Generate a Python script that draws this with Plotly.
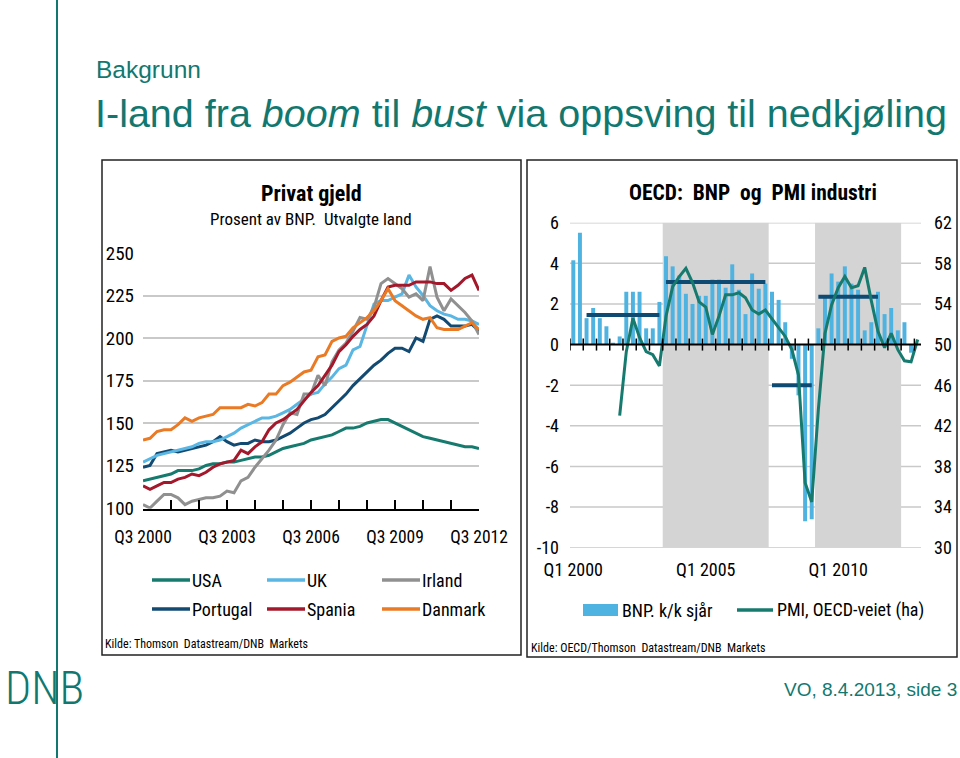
import plotly.graph_objects as go

W, H = 960, 758
def px(x):
    return x / W
def py(y):
    return 1 - y / H

TEAL = "#12786f"
NARROW = "Liberation Sans Narrow, Arial Narrow, Roboto Condensed, DejaVu Sans Condensed, sans-serif"
ARIAL = "Liberation Sans, Arial, sans-serif"

# ---------------- Left chart data: Privat gjeld, % av BNP (quarterly Q3 2000 - Q3 2012)
left_quarters = []
for yr in range(2000, 2013):
    for q in (1, 2, 3, 4):
        if (yr == 2000 and q < 3) or (yr == 2012 and q > 3):
            continue
        left_quarters.append(f"Q{q} {yr}")

left_tick_labels = ["Q3 2000", "Q3 2003", "Q3 2006", "Q3 2009", "Q3 2012"]

usa = [116, 117, 118, 119, 120, 122, 122, 122, 123, 125, 126, 126, 127, 127, 128, 129, 130, 130, 131, 133,
       135, 136, 137, 138, 140, 141, 142, 143, 145,
       147, 147, 148, 150, 151, 152, 152, 150, 148, 146, 144, 142, 141, 140, 139, 138, 137, 136, 136, 135]
uk = [127, 129, 131, 132, 133, 134, 135, 136, 138, 139, 139, 140, 142, 144, 147, 149, 151, 153, 153, 154,
      156, 158, 161, 164, 167, 168, 173, 177, 182, 184, 193, 195, 207, 220, 222, 222, 224, 226, 237, 230,
      225, 219, 216, 214, 213, 211, 211, 210, 208]
irland = [102, 100, 104, 108, 108, 106, 102, 104, 105, 106, 106, 107, 110, 109, 116, 118, 124, 129, 134, 140,
          149, 156, 155, 167, 167, 178, 172, 186, 193, 197, 204, 212, 211, 218, 232, 235, 232, 229, 224, 226,
          222, 242, 224, 216, 223, 219, 215, 210, 202]
portugal = [124, 125, 132, 133, 134, 133, 134, 135, 136, 137, 139, 142, 139, 137, 138, 138, 140, 139, 139, 140,
            142, 144, 147, 150, 152, 153, 155, 159, 163, 167, 172, 176, 180, 184, 187, 191, 194, 194, 192, 200,
            198, 211, 213, 211, 207, 207, 207, 208, 204]
spania = [113, 111, 113, 115, 115, 117, 118, 120, 119, 121, 124, 126, 127, 128, 134, 132, 136, 139, 146, 150,
          152, 155, 158, 163, 168, 172, 178, 184, 192, 196, 201, 205, 208, 213, 222, 230, 231, 231, 231, 233,
          233, 233, 232, 232, 228, 231, 235, 237, 228]
danmark = [140, 141, 145, 146, 146, 149, 153, 151, 153, 154, 155, 159, 159, 159, 159, 161, 160, 162, 167, 167,
           172, 174, 177, 180, 181, 189, 190, 198, 200, 201, 206, 209, 212, 216, 222, 229, 222, 219, 216, 213,
           211, 212, 206, 205, 205, 205, 207, 209, 205]

left_names = ["USA", "UK", "Irland", "Portugal", "Spania", "Danmark"]
left_series = [usa, uk, irland, portugal, spania, danmark]
left_colors = ["#177a6f", "#5ab6e2", "#909090", "#124a72", "#a3182b", "#ea7a24"]
draw_order = [0, 3, 1, 2, 4, 5]

left_yticks = [100, 125, 150, 175, 200, 225, 250]

# ---------------- Right chart data: OECD BNP (k/k sjår) and PMI (Q1 2000 - Q1 2013)
right_quarters = [f"Q{q} {yr}" for yr in range(2000, 2014) for q in (1, 2, 3, 4)][:53]
right_tick_labels = ["Q1 2000", "Q1 2005", "Q1 2010"]

bnp = [4.15, 5.5, 1.3, 1.8, 1.3, 0.9, 0.05, 0.4, 2.6, 2.6,
       2.6, 0.8, 0.8, 2.1, 4.35, 3.85, 3.4, 2.5, 2.0, 2.4,
       2.4, 3.2, 3.2, 2.8, 3.95, 2.7, 1.5, 3.5, 2.75, 3.0,
       2.6, 2.2, 1.1, -0.7, -2.5, -8.7, -8.6, 0.8, 2.3, 3.5,
       3.1, 3.85, 3.0, 2.7, 0.7, 1.1, 2.6, 1.5, 1.8, 0.7,
       1.1, -0.4]
pmi_start = 7
pmi = [43.0, 49.3, 52.6, 50.7, 49.3, 49.0, 47.9, 52.8, 55.7, 56.7,
       57.5, 56.1, 54.2, 53.7, 51.0, 52.8, 54.9, 54.9, 55.1, 54.6,
       53.4, 53.0, 53.4, 52.5, 51.6, 50.8, 49.5, 47.0, 36.4, 34.5,
       43.6, 51.1, 53.9, 55.6, 56.7, 55.6, 55.8, 57.6, 54.3, 51.3,
       49.7, 51.1, 49.5, 48.4, 48.3, 50.5]

# period averages of BNP (start quarter index, end quarter index, value)
avg_start = [2, 14, 30, 37]
avg_end = [13, 29, 36, 46]
avg_value = [1.45, 3.08, -2.0, 2.35]

# shaded upswing periods (quarter index boundaries)
shade_start = [13.5, 36.5]
shade_end = [29.5, 49.5]

right_yticks = [-10, -8, -6, -4, -2, 0, 2, 4, 6]
right_y2ticks = [30, 34, 38, 42, 46, 50, 54, 58, 62]

fig = go.Figure()

# ---- left chart traces
for idx in draw_order:
    fig.add_trace(go.Scatter(
        x=left_quarters, y=left_series[idx], mode="lines", name=left_names[idx],
        line=dict(color=left_colors[idx], width=3), xaxis="x", yaxis="y",
        showlegend=False))

# ---- right chart traces
fig.add_trace(go.Bar(
    x=right_quarters[:len(bnp)], y=bnp, marker=dict(color="#4eb3e1", line=dict(width=0)),
    width=0.6, xaxis="x2", yaxis="y2", showlegend=False, name="BNP. k/k sjår"))

ax, ay = [], []
for s, e, v in zip(avg_start, avg_end, avg_value):
    ax += [right_quarters[s], right_quarters[e], None]
    ay += [v, v, None]
fig.add_trace(go.Scatter(x=ax, y=ay, mode="lines", line=dict(color="#0f4a73", width=4),
                         xaxis="x2", yaxis="y2", showlegend=False, connectgaps=False))

fig.add_trace(go.Scatter(
    x=right_quarters[pmi_start:pmi_start + len(pmi)], y=pmi, mode="lines",
    line=dict(color="#177a6f", width=3), xaxis="x2", yaxis="y3", showlegend=False,
    name="PMI, OECD-veiet (ha)"))

shapes = []
x2_lo, x2_hi = -0.5, len(right_quarters) - 0.5
# right chart gridlines (drawn as shapes so that shading can cover them)
for v in right_yticks:
    if v == 0:
        continue
    shapes.append(dict(type="line", xref="x2", yref="y2", x0=x2_lo, x1=x2_hi, y0=v, y1=v,
                       line=dict(color="#c9c9c9", width=1.5), layer="below"))
# shaded periods
for s, e in zip(shade_start, shade_end):
    shapes.append(dict(type="rect", xref="x2", yref="y2", x0=s, x1=e,
                       y0=right_yticks[0], y1=right_yticks[-1],
                       fillcolor="#d4d4d4", line=dict(width=0), layer="below"))
# zero axis line with crossing ticks on right chart
shapes.append(dict(type="line", xref="x2", yref="y2", x0=x2_lo, x1=x2_hi, y0=0, y1=0,
                   line=dict(color="black", width=2), layer="above"))
for b in range(0, len(right_quarters), 2):
    shapes.append(dict(type="line", xref="x2", yref="y2", x0=b - 0.5, x1=b - 0.5,
                       ysizemode="pixel", yanchor=0, y0=-6, y1=6,
                       line=dict(color="black", width=1.5), layer="above"))

# panel boxes
shapes.append(dict(type="rect", xref="paper", yref="paper", x0=px(102), x1=px(521), y0=py(655), y1=py(160),
                   line=dict(color="#222", width=1.5)))
shapes.append(dict(type="rect", xref="paper", yref="paper", x0=px(527), x1=px(957), y0=py(657), y1=py(160),
                   line=dict(color="#222", width=1.5)))
# vertical brand line
shapes.append(dict(type="line", xref="paper", yref="paper", x0=px(57), x1=px(57), y0=0, y1=1,
                   line=dict(color=TEAL, width=2)))

annotations = []
# left legend
leg_pos = [(152, 580), (267, 580), (382, 580), (152, 609), (267, 609), (382, 609)]
for (lx, ly), name, col in zip(leg_pos, left_names, left_colors):
    shapes.append(dict(type="line", xref="paper", yref="paper", x0=px(lx), x1=px(lx + 38),
                       y0=py(ly), y1=py(ly), line=dict(color=col, width=3.5)))
    annotations.append(dict(x=px(lx + 38), y=py(ly), text=name,
                            font=dict(family=NARROW, size=18, color="black")))
# right legend
shapes.append(dict(type="rect", xref="paper", yref="paper", x0=px(583), x1=px(618), y0=py(616), y1=py(604),
                   fillcolor="#4eb3e1", line=dict(width=0)))
annotations.append(dict(x=px(620), y=py(610), text="BNP. k/k sjår",
                        font=dict(family=NARROW, size=18, color="black")))
shapes.append(dict(type="line", xref="paper", yref="paper", x0=px(737), x1=px(773), y0=py(610), y1=py(610),
                   line=dict(color="#177a6f", width=3.5)))
annotations.append(dict(x=px(775), y=py(610), text="PMI, OECD-veiet (ha)",
                        font=dict(family=NARROW, size=18, color="black")))

# titles
annotations += [
    dict(x=px(94), y=py(70), text="Bakgrunn", font=dict(family=ARIAL, size=24.5, color=TEAL)),
    dict(x=px(93), y=py(113), text="I-land fra <i>boom</i> til <i>bust</i> via oppsving til nedkjøling",
         font=dict(family=ARIAL, size=39.5, color=TEAL)),
    dict(x=px(311), y=py(193), text="<b>Privat gjeld</b>", xanchor="center",
         font=dict(family=NARROW, size=22, color="black")),
    dict(x=px(311), y=py(219), text="Prosent av BNP.  Utvalgte land", xanchor="center",
         font=dict(family=NARROW, size=17, color="black")),
    dict(x=px(753), y=py(192), text="<b>OECD:  BNP  og  PMI industri</b>", xanchor="center",
         font=dict(family=NARROW, size=21.5, color="black")),
    dict(x=px(103), y=py(644), text="Kilde: Thomson  Datastream/DNB  Markets",
         font=dict(family=NARROW, size=12, color="black")),
    dict(x=px(529), y=py(648), text="Kilde: OECD/Thomson  Datastream/DNB  Markets",
         font=dict(family=NARROW, size=12, color="black")),
    dict(x=px(959), y=py(689), text="VO, 8.4.2013, side 3", xanchor="right",
         font=dict(family=ARIAL, size=19, color=TEAL)),
    dict(x=px(44), y=py(688), text="DNB", xanchor="center",
         font=dict(family=NARROW, size=46, color=TEAL, weight=300)),
]
for a in annotations:
    a.setdefault("xref", "paper")
    a.setdefault("yref", "paper")
    a.setdefault("showarrow", False)
    a.setdefault("xanchor", "left")
    a.setdefault("yanchor", "middle")

grid = "#c9c9c9"
fig.update_layout(
    template="none",
    width=W, height=H, margin=dict(l=0, r=0, t=0, b=0, pad=0), autosize=False,
    paper_bgcolor="white", plot_bgcolor="rgba(0,0,0,0)",
    font=dict(family=NARROW, size=18, color="black"),
    showlegend=False, bargap=0.4,
    xaxis=dict(domain=[px(143), px(479)], type="category", categoryorder="array",
               categoryarray=left_quarters, range=[0, len(left_quarters) - 1],
               tickvals=left_quarters[::4],
               ticktext=[q if q in left_tick_labels else "" for q in left_quarters[::4]],
               ticks="inside", ticklen=9, tickwidth=1.5, tickcolor="black",
               showline=True, linecolor="black", linewidth=2, showgrid=False, zeroline=False,
               ticklabelstandoff=11, tickfont=dict(size=17.5), anchor="y", automargin=False),
    yaxis=dict(domain=[py(508.85), py(252.15)], range=[99.5, 250.5], tickvals=left_yticks,
               showgrid=True, gridcolor=grid, gridwidth=1.5, zeroline=False, showline=False,
               ticks="", ticklabelstandoff=8, tickfont=dict(size=19), anchor="x", automargin=False),
    xaxis2=dict(domain=[px(570), px(921)], type="category", categoryorder="array",
                categoryarray=right_quarters, range=[x2_lo, x2_hi],
                tickvals=right_tick_labels, ticktext=right_tick_labels,
                ticks="", showline=False, showgrid=False, zeroline=False,
                ticklabelstandoff=9, tickfont=dict(size=18), anchor="y2", automargin=False),
    yaxis2=dict(domain=[py(547.7), py(222.7)], range=[right_yticks[0], right_yticks[-1]],
                tickvals=right_yticks, ticktext=[str(v) for v in right_yticks],
                showgrid=False, zeroline=False, showline=False,
                ticks="", ticklabelstandoff=10, tickfont=dict(size=18), anchor="x2", automargin=False),
    yaxis3=dict(domain=[py(547.7), py(222.7)], range=[right_y2ticks[0], right_y2ticks[-1]],
                tickvals=right_y2ticks,
                overlaying="y2", side="right", showgrid=False, zeroline=False, showline=False,
                ticks="", ticklabelstandoff=12, tickfont=dict(size=18), anchor="x2", automargin=False),
    shapes=shapes, annotations=annotations,
)

fig.write_html("out.html", config={"displayModeBar": False},
               post_script="document.body.style.margin='0';")
